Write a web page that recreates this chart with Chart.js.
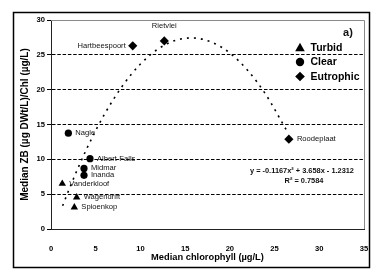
<!DOCTYPE html>
<html><head><meta charset="utf-8">
<script src="https://cdn.jsdelivr.net/npm/chart.js@4/dist/chart.umd.min.js"></script>
<style>html,body{margin:0;padding:0;background:#fff}#wrap{width:381px;height:270px;position:relative}</style>
</head><body><div id="wrap"><canvas id="c" width="381" height="270"></canvas></div>
<script>
// Data
const turbidNames = ['Vanderkloof', 'Wagendrift', 'Spioenkop'];
const turbidX = [1.26, 2.87, 2.61];
const turbidY = [6.5, 4.55, 3.1];

const clearNames = ['Nagle', 'Albert-Falls', 'Midmar', 'Inanda'];
const clearX = [1.94, 4.36, 3.69, 3.69];
const clearY = [13.75, 10.1, 8.7, 7.7];

const eutroNames = ['Hartbeespoort', 'Rietvlei', 'Roodeplaat'];
const eutroX = [9.14, 12.67, 26.6];
const eutroY = [26.3, 27.0, 12.9];

// Polynomial trend line samples
const trendX = [1.3, 2, 3, 4, 5, 6, 8, 10, 12, 14, 15.7, 18, 20, 22, 24, 26.3];
const trendY = [3.33, 5.62, 8.69, 11.53, 14.14, 16.52, 20.56, 23.68, 25.86, 27.11, 27.43, 26.8, 25.25, 22.76, 19.34, 14.25];

const xTicks = [0, 5, 10, 15, 20, 25, 30, 35];
const yTicks = [0, 5, 10, 15, 20, 25, 30];

const legendLabels = ['Turbid', 'Clear', 'Eutrophic'];
const panelLabel = 'a)';
const equationText = ['y = -0.1167x\u00B2 + 3.658x - 1.2312', 'R\u00B2 = 0.7584'];

// label placement (style only)
const labelPlace = {
  'Hartbeespoort': {dx: -7, dy: 0, align: 'right'},
  'Rietvlei': {dx: 0, dy: -15, align: 'center'},
  'Roodeplaat': {dx: 8, dy: 0, align: 'left'}
};

const zip = (xs, ys) => xs.map((x, i) => ({x, y: ys[i]}));
const FONT = '"Liberation Sans", Arial, sans-serif';

const frame = {
  id: 'frame',
  beforeDraw(chart) {
    const ctx = chart.ctx;
    ctx.save();
    ctx.fillStyle = '#fff';
    ctx.fillRect(0, 0, chart.width, chart.height);
    ctx.strokeStyle = '#000';
    ctx.lineWidth = 1.5;
    ctx.strokeRect(13.5, 12.5, 356, 255);
    ctx.restore();
  },
  beforeDatasetsDraw(chart) {
    const ctx = chart.ctx, a = chart.chartArea;
    ctx.save();
    ctx.strokeStyle = '#8a8a8a';
    ctx.lineWidth = 1;
    ctx.beginPath();
    ctx.moveTo(a.left, a.top + 0.5);
    ctx.lineTo(a.right + 0.5, a.top + 0.5);
    ctx.lineTo(a.right + 0.5, a.bottom);
    ctx.stroke();
    ctx.restore();
  },
  afterDatasetsDraw(chart) {
    const ctx = chart.ctx, a = chart.chartArea;
    const xs = chart.scales.x, ys = chart.scales.y;
    ctx.save();
    // point labels
    ctx.fillStyle = '#111';
    ctx.font = '7.6px ' + FONT;
    ctx.textBaseline = 'middle';
    const groups = [[turbidNames, turbidX, turbidY], [clearNames, clearX, clearY], [eutroNames, eutroX, eutroY]];
    groups.forEach(([names, X, Y]) => {
      names.forEach((n, i) => {
        const p = labelPlace[n] || {dx: 7, dy: 0, align: 'left'};
        ctx.textAlign = p.align;
        ctx.fillText(n, xs.getPixelForValue(X[i]) + p.dx, ys.getPixelForValue(Y[i]) + p.dy);
      });
    });
    // equation
    ctx.font = 'bold 7.4px ' + FONT;
    ctx.textAlign = 'center';
    ctx.fillText(equationText[0], 302, 171);
    ctx.fillText(equationText[1], 304, 181);
    // panel label
    ctx.font = 'bold 11px ' + FONT;
    ctx.textAlign = 'center';
    ctx.fillText(panelLabel, 348, 33);
    // legend
    ctx.font = 'bold 10.5px ' + FONT;
    ctx.textAlign = 'left';
    const lx = 300, ly = [47.7, 62, 76.5];
    ctx.fillStyle = '#000';
    // triangle
    ctx.beginPath();
    ctx.moveTo(lx, ly[0] - 5); ctx.lineTo(lx + 4.8, ly[0] + 3.5); ctx.lineTo(lx - 4.8, ly[0] + 3.5); ctx.closePath(); ctx.fill();
    // circle
    ctx.beginPath(); ctx.arc(lx, ly[1], 4.2, 0, Math.PI * 2); ctx.fill();
    // diamond
    ctx.beginPath();
    ctx.moveTo(lx, ly[2] - 4.8); ctx.lineTo(lx + 4.8, ly[2]); ctx.lineTo(lx, ly[2] + 4.8); ctx.lineTo(lx - 4.8, ly[2]); ctx.closePath(); ctx.fill();
    legendLabels.forEach((t, i) => ctx.fillText(t, 310.5, ly[i] + 0.5));
    ctx.restore();
  }
};

new Chart(document.getElementById('c'), {
  type: 'scatter',
  data: {
    datasets: [
      {label: 'Trend', type: 'line', data: zip(trendX, trendY), showLine: true, pointRadius: 0,
       borderColor: '#000', borderWidth: 1.6, borderDash: [2, 5], cubicInterpolationMode: 'monotone', fill: false, order: 5},
      {label: legendLabels[0], data: zip(turbidX, turbidY), pointStyle: 'triangle', pointRadius: 4.3,
       backgroundColor: '#000', borderColor: '#000', borderWidth: 0},
      {label: legendLabels[1], data: zip(clearX, clearY), pointStyle: 'circle', pointRadius: 3.6,
       backgroundColor: '#000', borderColor: '#000', borderWidth: 0},
      {label: legendLabels[2], data: zip(eutroX, eutroY), pointStyle: 'rectRot', pointRadius: 4.6,
       backgroundColor: '#000', borderColor: '#000', borderWidth: 0}
    ]
  },
  options: {
    responsive: false,
    animation: false,
    layout: {padding: {left: 14, top: 20, right: 17, bottom: 0}},
    plugins: {legend: {display: false}, tooltip: {enabled: false}, title: {display: false}},
    scales: {
      x: {
        type: 'linear', min: 0, max: 35,
        afterBuildTicks: s => { s.ticks = xTicks.map(v => ({value: v})); },
        afterFit: s => { s.height = 41; },
        grid: {display: false},
        border: {display: true, color: '#222', width: 1},
        ticks: {color: '#000', font: {family: FONT, size: 7.6, weight: 'bold'}, padding: 7, maxRotation: 0},
        title: {display: true, text: 'Median chlorophyll (\u00B5g/L)', color: '#000',
                font: {family: FONT, size: 9.3, weight: 'bold'}, padding: {top: 0, bottom: 6.5}}
      },
      y: {
        type: 'linear', min: 0, max: 30,
        afterBuildTicks: s => { s.ticks = yTicks.map(v => ({value: v})); },
        afterFit: s => { s.width = 37; },
        grid: {
          color: c => (c.tick && (c.tick.value === 0 || c.tick.value === 30)) ? 'rgba(0,0,0,0)' : '#000',
          tickColor: '#000', tickLength: 4, tickBorderDash: [], drawTicks: true, lineWidth: 1
        },
        border: {display: true, color: '#222', width: 1, dash: [3.5, 1.8]},
        ticks: {color: '#000', font: {family: FONT, size: 7.6, weight: 'bold'}, padding: 2},
        title: {display: true, text: 'Median ZB (\u00B5g DWt/L)/Chl (\u00B5g/L)', color: '#000',
                font: {family: FONT, size: 10, weight: 'bold'}, padding: {top: 5.7, bottom: 0}}
      }
    }
  },
  plugins: [frame]
});
</script>
</body></html>
